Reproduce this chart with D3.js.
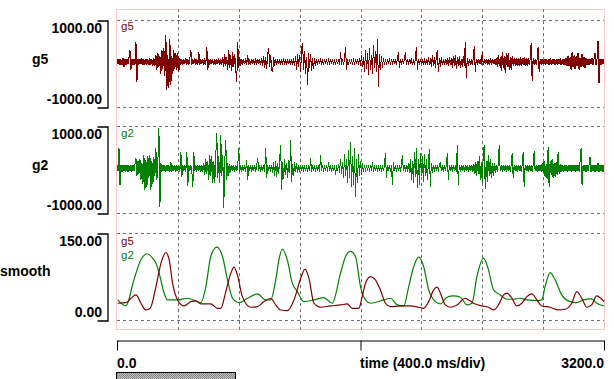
<!DOCTYPE html>
<html><head><meta charset="utf-8">
<script src="https://cdn.jsdelivr.net/npm/d3@7"></script>
<style>
html,body{margin:0;padding:0;background:#fff;}
svg{display:block;font-family:"Liberation Sans",Arial,sans-serif;}
</style></head>
<body><svg id="c" width="614" height="379"></svg>
<script>
// ---- data ----
const timeDomain = [0, 3200];
const gridTimes = [400, 800, 1200, 1600, 2000, 2400, 2800];
const bottomTicks = [0, 1600, 3200];
const bottomLabels = ["0.0", "time (400.0 ms/div)", "3200.0"];
const rawRange = [-1000, 1000];
const rawLabels = ["1000.00", "-1000.00"];
const smoothRange = [0, 150];
const smoothLabels = ["150.00", "0.00"];
const panelNames = ["g5", "g2", "smooth"];

// raw signals, one sample per ~6.56 ms
const g5Raw = [
 100,-20,110,-30,90,-40,120,-75,100,-30,110,-20,130,309,-145,100,-30,110,-40,500,
 -420,110,-30,100,-20,120,-40,95,-25,110,-30,100,-40,120,-30,100,-50,130,-60,200,
 -150,250,-80,180,-230,320,-120,350,-280,654,-611,200,-560,555,-500,180,-250,300,-120,240,
 -150,240,-190,120,-40,100,-30,110,-20,130,-40,100,-30,110,309,-40,100,-20,120,-30,
 100,-40,263,-30,110,-20,100,-40,120,-30,385,-151,100,-30,110,-20,90,-40,110,-30,
 100,-20,120,-40,100,-30,150,-80,220,-60,150,-150,309,-100,200,-180,260,-90,220,-150,
 -420,500,-100,150,-60,110,-30,100,-20,120,-40,200,-40,100,-30,110,-20,100,-40,120,
 -30,110,-20,100,-40,130,-60,180,-100,140,-120,220,355,-80,200,-150,-190,150,-50,110,
 -30,100,-20,110,-40,95,-25,120,-30,100,-40,110,-20,90,-30,110,-40,120,-60,180,
 -150,220,-80,200,-200,350,470,-150,280,-230,150,-496,250,-100,220,-180,120,-120,130,-50,
 110,-30,100,-20,120,-40,90,-30,110,-20,100,-40,120,-30,100,-20,110,-40,95,-30,
 100,-20,110,-30,263,-40,100,-30,110,385,-151,100,-30,110,-20,100,-40,120,-30,100,
 -20,110,-40,130,-60,200,-80,150,-200,300,-120,250,-266,355,-150,200,-230,424,-100,280,
 -200,555,-535,220,-160,180,-100,120,-40,110,-30,100,-20,120,-40,100,-30,110,-20,100,
 -40,110,270,-105,100,-30,110,-20,100,270,-40,110,-30,100,-20,120,-40,90,-30,110,
 385,-150,100,-30,110,-20,100,-40,120,-30,100,-40,150,-40,120,-90,190,-60,140,-100,
 160,309,-190,120,-70,140,-40,110,-30,100,-40,130,-60,150,-40,120,-100,180,-60,200,
 -120,140,-60,160,-100,110,-90,180,-50,500,-342,130,-60,110,-30,100,-40,110,402,-190,
 100,-30,110,-20,100,-40,270,-40,100,-20,110,-30,100,-40,120,-30,110,-20,95,-40,
 130,-80,200,-60,150,-180,270,-100,180,-220,230,-90,250,-160,140,-150,180,-60,130,-50,
 130,-60,120,-50,140,-60,120,-40,150,-60,130,-50,120,-40,110,463,-397,120,-40,110,
 -30,100,385,-190,100,-30,110,-20,90,-30,110,-20,100,-40,120,-30,100,-20,110,-40,
 100,-30,110,-20,120,-40,100,-30,110,-40,130,-60,180,-60,140,-150,270,-90,200,-130,
 160,-60,250,-150,130,-90,220,-70,150,-110,130,-40,110,-30,100,-20,120,-40,110,240,
 -40,110,523,-443,100,-30,110,-20,100
];
const g2Raw = [
 100,-40,488,-356,110,-50,100,-40,105,-45,110,-55,95,-40,110,-50,100,-40,120,272,
 -150,200,-100,250,-250,150,-330,334,-471,220,-400,320,-200,334,-471,200,-330,280,-150,488,
 -250,200,948,-855,150,-60,110,-40,100,-50,110,-40,100,-55,180,-50,100,-40,110,-50,
 100,-40,110,-50,410,-165,100,-40,110,-50,410,-372,100,-40,110,-50,-395,403,-40,100,
 -50,110,-40,100,-55,110,-60,150,-120,250,-100,200,-250,334,-150,300,-317,200,-300,334,
 833,-200,300,-317,794,-150,334,-892,200,679,-250,150,-150,130,-60,110,-40,100,-50,110,
 -40,100,495,-60,110,-50,100,-40,110,-50,219,-241,100,-40,110,-50,100,-40,110,-50,
 100,258,-40,110,-50,100,-40,110,-50,495,-195,110,-40,100,-50,110,-80,160,-150,200,
 -180,150,-100,250,564,-471,180,-210,250,-120,150,-200,212,-90,679,-280,130,-150,170,-60,
 140,-80,110,-50,100,-40,110,-50,100,-40,110,-50,100,-40,265,-50,110,-40,100,-50,
 110,-40,100,-50,334,-40,110,-50,100,-40,110,-50,180,-40,100,-50,110,-40,100,-126,
 100,-40,130,-80,250,-100,180,-200,350,-150,250,-300,450,-200,640,-395,300,-350,495,-625,
 250,-300,350,-150,200,-120,150,-60,110,-50,100,-40,110,-50,100,-40,180,-50,100,-40,
 110,-50,100,-40,110,-50,100,-40,110,387,-202,100,-40,110,-50,100,-356,180,-40,100,
 -50,110,-40,100,-50,110,334,-40,100,-50,110,-60,150,-80,250,-250,200,-300,400,-180,
 488,-432,250,-350,380,-150,300,-280,350,-150,250,-250,150,465,-409,150,-80,110,-50,100,
 -40,110,-50,100,180,-40,110,-50,100,-40,110,373,-241,100,-40,110,-50,100,-40,110,
 -50,564,-356,110,-50,100,-40,110,-50,100,-40,110,-50,100,-40,110,-60,130,-100,180,
 -150,200,-100,300,-250,180,-300,330,564,-455,200,-280,330,-150,250,-200,150,-150,150,-80,
 110,-50,100,564,-40,110,-50,100,-40,110,-50,100,-40,110,-50,100,373,-202,110,-40,
 100,-50,110,-40,100,-50,110,410,-395,100,-40,110,-50,100,-40,110,-50,100,433,-40,
 110,-50,100,-40,110,-60,150,-60,200,-180,120,-220,525,-395,200,-120,240,-200,150,-180,
 180,-120,410,-100,130,-60,110,-50,100,-40,110,-50,100,-40,110,-50,100,-40,110,-50,
 100,-40,110,-50,180,488,-356,100,-40,110,-50,100,-40,110,295,-50,100,-40,110,-50,
 100,-40,150,-50,110,-40,100,-50,100
];

const smoothG2T = [5,59,111,157,197,234,256,277,310,332,398,464,529,551,584,616,656,693,726,759,802,857,923,977,1010,1043,1064,1087,1119,1152,1185,1228,1294,1359,1414,1469,1502,1534,1567,1600,1633,1666,1753,1797,1841,1884,1917,1950,1982,2015,2048,2092,2125,2168,2212,2256,2300,2332,2365,2408,2441,2474,2518,2562,2605,2649,2693,2759,2791,2813,2846,2879,2922,2977,3021,3064,3119,3152,3200];
const smoothG2V = [34.6,24.2,69.2,103.8,114.2,106.7,98.1,80.8,46.2,34.6,34.6,37.5,31.7,29.9,57.6,109.5,125.8,109.5,69.2,37.5,29.9,37.5,45.0,34.6,34.6,69.2,103.8,122.3,103.8,63.5,49.0,31.7,34.6,38.6,28.9,80.8,109.5,118.2,109.5,57.6,34.6,28.9,34.6,37.5,26.0,24.2,57.6,92.2,108.5,92.2,51.9,31.7,27.7,39.3,41.5,39.3,26.0,28.9,74.9,106.7,86.5,51.9,43.3,35.8,35.8,37.5,34.6,33.4,34.6,57.6,81.8,69.2,43.3,31.7,29.9,34.6,36.3,28.9,24.2];
const smoothG5T = [5,59,92,125,157,190,218,256,289,321,343,365,398,441,485,518,551,616,660,682,715,748,769,791,824,879,923,966,1010,1043,1075,1119,1163,1207,1235,1261,1294,1338,1403,1469,1513,1546,1589,1611,1633,1666,1698,1731,1764,1797,1862,1928,1982,2015,2048,2081,2103,2125,2157,2190,2234,2288,2310,2343,2398,2441,2474,2507,2540,2562,2595,2627,2660,2693,2726,2759,2791,2846,2900,2944,2988,3021,3054,3087,3119,3152,3179,3200];
const smoothG5V = [28.9,29.9,37.5,43.3,28.9,17.3,20.2,57.6,98.1,116.4,103.8,63.5,34.6,24.2,31.7,32.9,27.7,27.7,20.2,20.2,49.0,80.8,91.2,77.9,40.3,22.0,23.0,31.7,37.5,26.0,17.3,16.1,34.6,72.1,87.7,72.1,28.9,22.0,24.2,26.0,27.7,20.2,20.2,40.3,63.5,74.9,69.2,51.9,28.9,23.0,24.2,24.2,22.0,20.2,31.7,51.9,56.6,46.2,26.0,22.0,26.0,37.5,34.6,28.9,24.2,22.0,17.3,26.0,43.3,46.2,37.5,24.2,28.9,40.3,45.0,34.6,24.2,22.0,17.3,18.5,28.9,49.0,37.5,22.0,26.0,41.5,37.5,31.7];

// ---- drawing ----
const RED = "#800000", GREEN = "#008000";
const svg = d3.select("#c");
const x = d3.scaleLinear().domain(timeDomain).range([117, 604]);
const panels = [
  {name: panelNames[0], y: d3.scaleLinear().domain(rawRange).range([107, 20]), labels: rawLabels, nameY: 63.5},
  {name: panelNames[1], y: d3.scaleLinear().domain(rawRange).range([213, 126]), labels: rawLabels, nameY: 170},
  {name: panelNames[2], y: d3.scaleLinear().domain(smoothRange).range([320, 233]), labels: smoothLabels, nameY: 275.5}
];

// pattern for bottom bar
const defs = svg.append("defs");
const pat = defs.append("pattern").attr("id","chk").attr("width",2).attr("height",2).attr("patternUnits","userSpaceOnUse");
pat.append("rect").attr("width",2).attr("height",2).attr("fill","#c8c8c8");
pat.append("rect").attr("width",1).attr("height",1).attr("fill","#808080");
pat.append("rect").attr("x",1).attr("y",1).attr("width",1).attr("height",1).attr("fill","#808080");

// vertical grid lines
svg.append("g").selectAll("line").data(gridTimes).join("line")
  .attr("x1", d => Math.round(x(d)) + 0.5).attr("x2", d => Math.round(x(d)) + 0.5)
  .attr("y1", 9).attr("y2", 330)
  .attr("stroke", "#707070").attr("stroke-dasharray", "3,3");

// horizontal grid lines & brackets
panels.forEach(p => {
  const d = p.y.domain();
  svg.append("g").selectAll("line").data(d).join("line")
    .attr("x1", 117).attr("x2", 604)
    .attr("y1", v => Math.round(p.y(v)) + 0.5).attr("y2", v => Math.round(p.y(v)) + 0.5)
    .attr("stroke", "#707070").attr("stroke-dasharray", "3,3");
  const ax = svg.append("g").attr("transform", "translate(107.5,0.5)")
    .call(d3.axisLeft(p.y).tickValues([]).tickSizeOuter(10));
  ax.select(".domain").attr("stroke", "#000").attr("stroke-width", 1.3);
  svg.append("text").attr("x", 102).attr("y", p.y(d[1]) + 13)
    .attr("text-anchor", "end").attr("font-size", 14).attr("font-weight", "bold").text(p.labels[0]);
  svg.append("text").attr("x", 102).attr("y", p.y(d[0]) - 3.5)
    .attr("text-anchor", "end").attr("font-size", 14).attr("font-weight", "bold").text(p.labels[1]);
  svg.append("text").attr("x", p.name === "smooth" ? 0 : 32).attr("y", p.nameY)
    .attr("font-size", 14).attr("font-weight", "bold").text(p.name);
});

// frame
svg.append("rect").attr("x", 116.5).attr("y", 9.5).attr("width", 488).attr("height", 320)
  .attr("fill", "none").attr("stroke", "#ff9090").attr("stroke-dasharray", "1,1");

// raw signals
function rawLine(series, yS, color) {
  const n = series.length;
  const line = d3.line().x((d, i) => x(i * timeDomain[1] / (n - 1))).y(d => yS(d));
  svg.append("path").datum(series).attr("d", line).attr("fill", "none")
    .attr("stroke", color).attr("stroke-width", 1).attr("shape-rendering", "crispEdges");
}
rawLine(g5Raw, panels[0].y, RED);
rawLine(g2Raw, panels[1].y, GREEN);

// smooth curves
function smoothLine(T, V, color) {
  const pts = T.map((t, i) => [t, V[i]]);
  const line = d3.line().x(d => x(d[0])).y(d => panels[2].y(d[1])).curve(d3.curveMonotoneX);
  svg.append("path").datum(pts).attr("d", line).attr("fill", "none")
    .attr("stroke", color).attr("stroke-width", 1.2);
}
smoothLine(smoothG2T, smoothG2V, GREEN);
smoothLine(smoothG5T, smoothG5V, RED);

// in-plot series labels
const inLabels = [
  {t: "g5", y: 30, c: RED}, {t: "g2", y: 137, c: GREEN},
  {t: "g5", y: 244.5, c: RED}, {t: "g2", y: 259, c: GREEN}
];
svg.append("g").selectAll("text").data(inLabels).join("text")
  .attr("x", 121).attr("y", d => d.y).attr("fill", d => d.c)
  .attr("font-size", 11.5).text(d => d.t);

// bottom axis
const bx = svg.append("g").attr("transform", "translate(0,340.5)")
  .call(d3.axisBottom(x).tickValues(bottomTicks).tickSizeInner(10).tickSizeOuter(0).tickFormat(""));
bx.select(".domain").attr("stroke", "#000");
bx.selectAll(".tick line").attr("stroke", "#000");
const anchors = ["start", "start", "end"];
svg.append("g").selectAll("text").data(bottomTicks).join("text")
  .attr("x", (d, i) => x(d) + (i === 1 ? -0.5 : 0)).attr("y", 367.5)
  .attr("text-anchor", (d, i) => anchors[i])
  .attr("font-size", 14).attr("font-weight", "bold").text((d, i) => bottomLabels[i]);

// scroll bar
svg.append("rect").attr("x", 116.5).attr("y", 372.5).attr("width", 119).attr("height", 10)
  .attr("fill", "url(#chk)").attr("stroke", "#000");
</script></body></html>
